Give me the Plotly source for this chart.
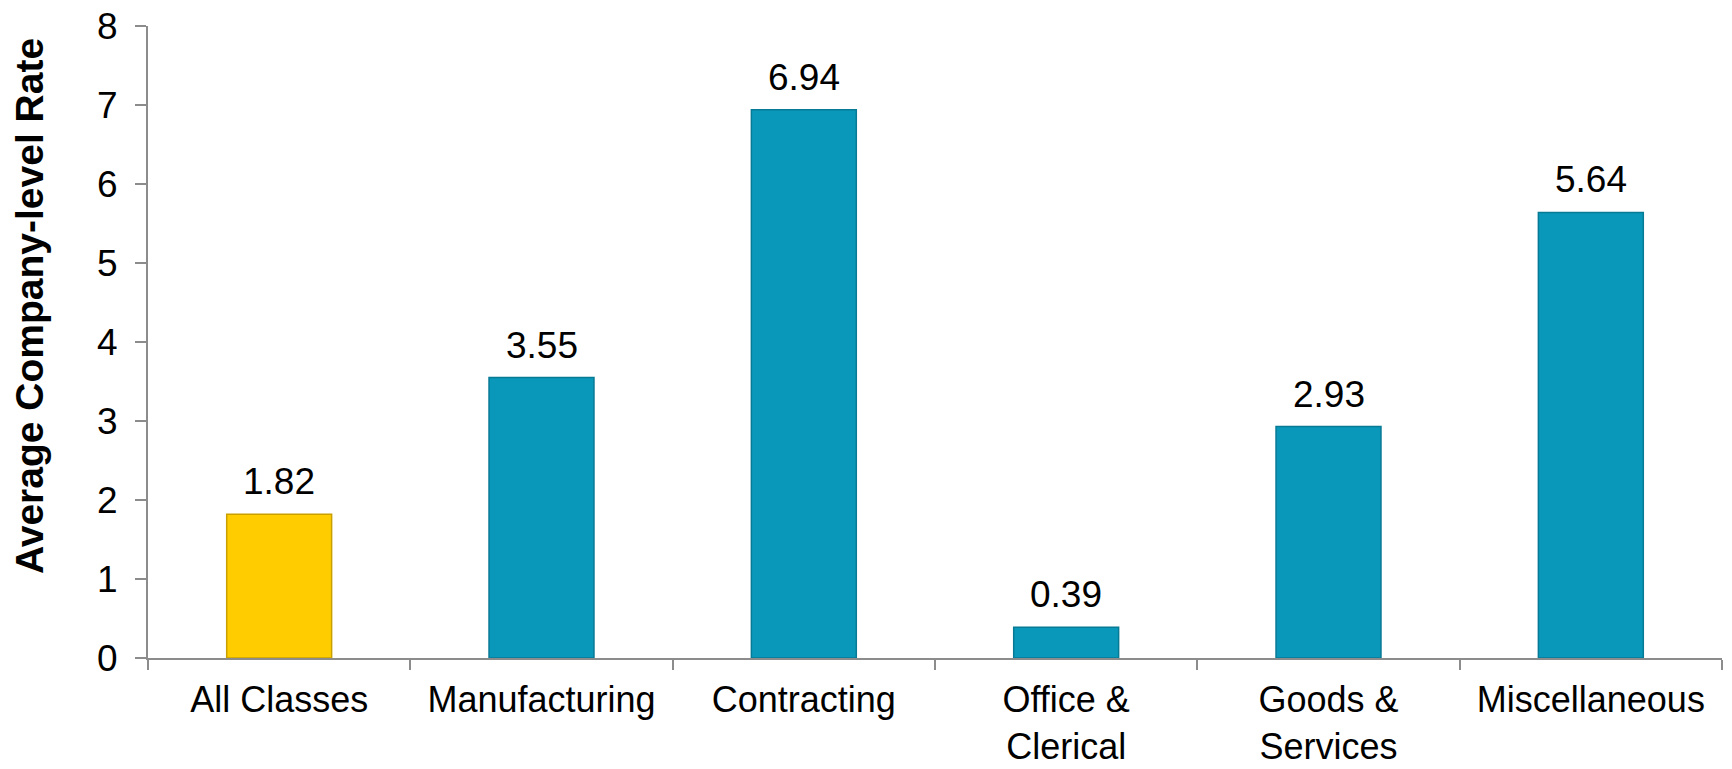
import plotly.graph_objects as go

categories = ["All Classes", "Manufacturing", "Contracting", "Office &<br>Clerical", "Goods &<br>Services", "Miscellaneous"]
values = [1.82, 3.55, 6.94, 0.39, 2.93, 5.64]
bar_colors = ["#FFCC00", "#0A98BA", "#0A98BA", "#0A98BA", "#0A98BA", "#0A98BA"]
line_colors = ["#C9A000", "#077A96", "#077A96", "#077A96", "#077A96", "#077A96"]
y_ticks = [0, 1, 2, 3, 4, 5, 6, 7, 8]
y_title = "Average Company-level Rate"

FONT = "Arial, 'Liberation Sans', sans-serif"

fig = go.Figure()
fig.add_trace(go.Bar(
    x=categories, y=values,
    marker=dict(color=bar_colors, line=dict(color=line_colors, width=1.5)),
    showlegend=False, hoverinfo="skip",
))

for c, v in zip(categories, values):
    fig.add_annotation(x=c, y=v, xref="x", yref="y", text=f"{v:.2f}",
                       showarrow=False, yanchor="bottom", yshift=10,
                       font=dict(family=FONT, size=37, color="#000000"))

fig.add_annotation(x=(29 - 148) / (1722 - 148), y=(658 - 306) / (658 - 26),
                   xref="paper", yref="paper", text=f"<b>{y_title}</b>",
                   showarrow=False, textangle=-90, xanchor="center", yanchor="middle",
                   font=dict(family=FONT, size=39, color="#000000"))

fig.update_layout(
    width=1732, height=769,
    margin=dict(l=148, r=10, t=26, b=111, autoexpand=False),
    paper_bgcolor="white", plot_bgcolor="white",
    bargap=0.6,
    font=dict(family=FONT, color="#000000"),
)

fig.update_xaxes(
    type="category", tickson="boundaries", ticks="outside", ticklen=10, tickwidth=2,
    tickcolor="#8C8C8C", showline=True, linecolor="#8C8C8C", linewidth=2,
    showgrid=False, ticklabelstandoff=9, automargin=False,
    tickfont=dict(family=FONT, size=36, color="#000000"),
)
fig.update_yaxes(
    range=[0, 8], tickvals=y_ticks, ticks="outside", ticklen=11, tickwidth=2,
    tickcolor="#8C8C8C", showline=True, linecolor="#8C8C8C", linewidth=2,
    showgrid=False, zeroline=False, ticklabelstandoff=10, automargin=False,
    tickfont=dict(family=FONT, size=37, color="#000000"),
)

fig.write_html("out.html")
